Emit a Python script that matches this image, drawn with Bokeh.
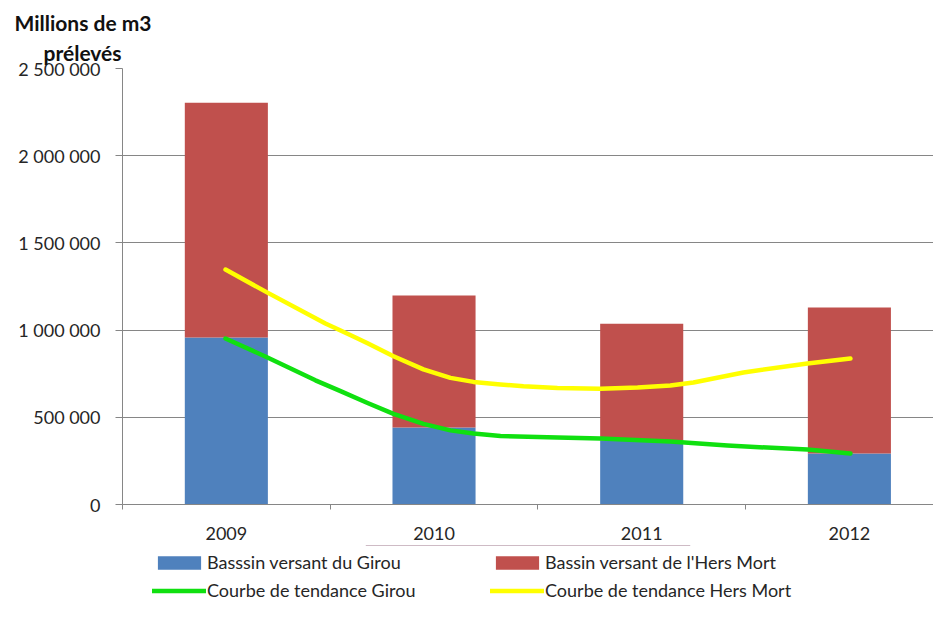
from bokeh.plotting import figure
from bokeh.layouts import column
from bokeh.models import (FixedTicker, Legend, LegendItem, Title, Range1d, ColumnDataSource)
from bokeh.embed import file_html
from bokeh.resources import INLINE

# ---- data ----
years = ["2009", "2010", "2011", "2012"]
girou = [957000, 441000, 367000, 292000]
hers_mort = [1347000, 757000, 670000, 837000]

# trend curves (position in category units, value)
trend_girou_pos = [0.496, 0.698, 0.929, 1.050, 1.180, 1.305, 1.449, 1.579, 1.690, 1.820,
                   2.094, 2.301, 2.638, 2.913, 3.298, 3.505]
trend_girou_val = [952000, 843000, 712000, 650000, 582000, 520000, 462000, 425000, 407000, 393000,
                   384000, 378000, 361000, 338000, 315000, 292000]
trend_hers_pos = [0.496, 0.698, 0.977, 1.050, 1.122, 1.180, 1.305, 1.449, 1.579, 1.690, 1.820, 1.931,
                  2.094, 2.301, 2.480, 2.638, 2.749, 2.990, 3.298, 3.505]
trend_hers_val = [1347000, 1215000, 1038000, 998000, 958000, 925000, 850000, 775000, 726000, 703000, 688000, 678000,
                  668000, 664000, 671000, 682000, 700000, 757000, 809000, 837000]

y_ticks = [0, 500000, 1000000, 1500000, 2000000, 2500000]
y_tick_labels = ["0", "500 000", "1 000 000", "1 500 000", "2 000 000", "2 500 000"]

title_lines = ["Millions de m3", "prélevés"]
legend_labels = ["Basssin versant du Girou", "Bassin versant de l'Hers Mort",
                 "Courbe de tendance Girou", "Courbe de tendance Hers Mort"]

BLUE = "#4F81BD"
RED = "#C0504D"
GREEN = "#10E010"
YELLOW = "#FFFF00"
GRID = "#868686"
TXT = "#262626"
FONT = "Lato"

centers = [i + 0.5 for i in range(len(years))]
totals = [g + h for g, h in zip(girou, hers_mort)]
src = ColumnDataSource(dict(x=centers, girou=girou, top=totals))
src_tg = ColumnDataSource(dict(x=trend_girou_pos, y=trend_girou_val))
src_th = ColumnDataSource(dict(x=trend_hers_pos, y=trend_hers_val))

p = figure(width=933, height=545, output_backend="svg", toolbar_location=None,
           x_range=Range1d(0, 3.905), y_range=Range1d(0, 2500000),
           min_border_left=122, min_border_top=68, min_border_bottom=41, min_border_right=0)
p.outline_line_color = None
p.background_fill_color = "white"

bar_blue = dict(x="x", width=0.4, bottom=0, top="girou", source=src, fill_color=BLUE, line_color=None)
bar_red = dict(x="x", width=0.4, bottom="girou", top="top", source=src, fill_color=RED, line_color=None)
line_g = dict(x="x", y="y", source=src_tg, line_color=GREEN, line_width=4.5, line_cap="round", line_join="round")
line_y = dict(x="x", y="y", source=src_th, line_color=YELLOW, line_width=4.5, line_cap="round", line_join="round")

p.vbar(**bar_blue)
p.vbar(**bar_red)
p.line(**line_g)
p.line(**line_y)

# x axis: labels at centers, tick marks at category boundaries
xa = p.xaxis[0]
xa.ticker = FixedTicker(ticks=centers, minor_ticks=list(range(len(years) + 1)))
xa.major_label_overrides = {c: y for c, y in zip(centers, years)}
xa.major_tick_out = 0
xa.major_tick_in = 0
xa.minor_tick_out = 5
xa.minor_tick_in = 0
xa.minor_tick_line_color = GRID
xa.axis_line_color = GRID
xa.major_label_standoff = 17
xa.major_label_text_font = FONT
xa.major_label_text_font_size = "18px"
xa.major_label_text_color = TXT
p.xgrid.grid_line_color = None

ya = p.yaxis[0]
ya.ticker = FixedTicker(ticks=y_ticks, minor_ticks=[])
ya.major_label_overrides = {t: l for t, l in zip(y_ticks, y_tick_labels)}
ya.major_tick_out = 7
ya.major_tick_in = 0
ya.major_tick_line_color = GRID
ya.axis_line_color = GRID
ya.major_label_standoff = 15
ya.major_label_text_font = FONT
ya.major_label_text_font_size = "18px"
ya.major_label_text_color = TXT
p.ygrid.grid_line_color = GRID
p.ygrid.grid_line_width = 1

# two-line title, nearest line first
p.add_layout(Title(text=title_lines[1], align="left", offset=-79, standoff=7,
                   text_font=FONT, text_font_size="21px", text_font_style="bold",
                   text_color="#111111"), "above")
p.add_layout(Title(text=title_lines[0], align="left", offset=-108, standoff=0,
                   text_font=FONT, text_font_size="21px", text_font_style="bold",
                   text_color="#111111"), "above")

# legend strip below the chart (same series, kept out of this strip's view; only swatches show)
q = figure(width=933, height=56, output_backend="svg", toolbar_location=None,
           x_axis_type=None, y_axis_type=None, x_range=Range1d(0, 1), y_range=Range1d(-2, -1),
           min_border=0)
q.outline_line_color = None
q.grid.grid_line_color = None
l_blue = q.vbar(**bar_blue)
l_red = q.vbar(**bar_red)
l_g = q.line(**line_g)
l_y = q.line(**line_y)

legend = Legend(items=[LegendItem(label=legend_labels[0], renderers=[l_blue]),
                       LegendItem(label=legend_labels[1], renderers=[l_red]),
                       LegendItem(label=legend_labels[2], renderers=[l_g]),
                       LegendItem(label=legend_labels[3], renderers=[l_y])],
                location=(30, 0), orientation="horizontal", ncols=2, nrows=2,
                glyph_width=54, glyph_height=17, label_standoff=1, label_width=277,
                spacing=6, padding=0, margin=0,
                label_text_font=FONT, label_text_font_size="18px", label_text_color=TXT,
                border_line_color=None, background_fill_alpha=0)
q.add_layout(legend, "center")

layout = column(p, q, spacing=0)
open("out.html", "w").write(file_html(layout, INLINE))
